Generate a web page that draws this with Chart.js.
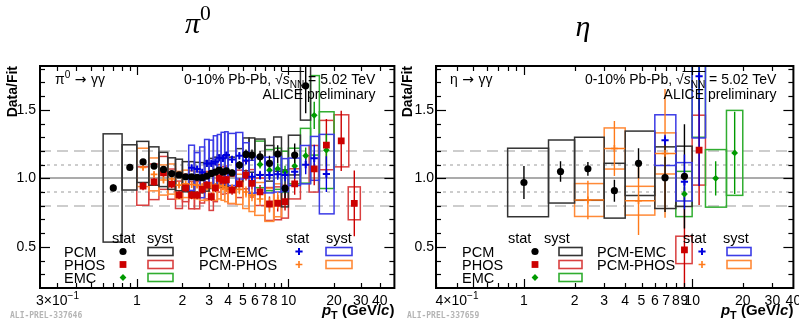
<!DOCTYPE html>
<html>
<head>
<meta charset="utf-8">
<title>π0 and η Data/Fit, 0-10% Pb-Pb 5.02 TeV</title>
<script src="https://cdn.jsdelivr.net/npm/chart.js@4.4.1/dist/chart.umd.min.js"></script>
<style>
  html, body { margin:0; padding:0; background:#ffffff; }
  #wrap { position:relative; width:799px; height:321px; overflow:hidden; background:#ffffff; }
  #wrap canvas { position:absolute; top:0; }
  #cPi0 { left:0; }
  #cEta { left:399px; }
</style>
</head>
<body>
<div id="wrap">
  <canvas id="cPi0" width="400" height="321"></canvas>
  <canvas id="cEta" width="400" height="321"></canvas>
</div>
<script>
// ===================== DATA =====================
// ---- pi0 panel ----
const pi0PcmPt   = [0.7,0.9,1.1,1.3,1.5,1.7,1.9,2.1,2.3,2.5,2.7,2.9,3.1,3.3,3.5,3.7,3.9,4.25,4.75,5.25,5.75,6.5,7.5,8.5,9.5,11,13];
const pi0PcmLo   = [0.6,0.8,1.0,1.2,1.4,1.6,1.8,2.0,2.2,2.4,2.6,2.8,3.0,3.2,3.4,3.6,3.8,4.0,4.5,5.0,5.5,6.0,7.0,8.0,9.0,10,12];
const pi0PcmHi   = [0.8,1.0,1.2,1.4,1.6,1.8,2.0,2.2,2.4,2.6,2.8,3.0,3.2,3.4,3.6,3.8,4.0,4.5,5.0,5.5,6.0,7.0,8.0,9.0,10,12,14];
const pi0PcmVal  = [0.93,1.08,1.12,1.09,1.065,1.035,1.025,1.012,1.012,1.007,1.005,1.017,1.036,1.045,1.06,1.045,1.055,1.04,1.097,1.175,1.17,1.157,1.11,1.177,0.927,1.17,1.675];
const pi0PcmStat = [0.025,0.016,0.015,0.013,0.012,0.012,0.012,0.012,0.012,0.013,0.014,0.015,0.016,0.018,0.02,0.022,0.024,0.025,0.03,0.035,0.04,0.045,0.055,0.065,0.075,0.085,0.2];
const pi0PcmSys  = [0.395,0.165,0.15,0.14,0.125,0.115,0.115,0.11,0.11,0.11,0.11,0.11,0.11,0.11,0.11,0.11,0.11,0.115,0.12,0.12,0.125,0.13,0.13,0.125,0.135,0.145,0.25];

const pi0PhosPt   = [1.1,1.3,1.5,1.7,1.9,2.1,2.3,2.5,2.7,2.9,3.1,3.3,3.5,3.7,3.9,4.25,4.75,5.25,5.75,6.5,7.5,8.5,9.5,11,14.8,17.8,22.3,27.2];
const pi0PhosLo   = [1.0,1.2,1.4,1.6,1.8,2.0,2.2,2.4,2.6,2.8,3.0,3.2,3.4,3.6,3.8,4.0,4.5,5.0,5.5,6.0,7.0,8.0,9.0,10,13.7,16,20,24.8];
const pi0PhosHi   = [1.2,1.4,1.6,1.8,2.0,2.2,2.4,2.6,2.8,3.0,3.2,3.4,3.6,3.8,4.0,4.5,5.0,5.5,6.0,7.0,8.0,9.0,10,12,15.8,20,25,29.8];
const pi0PhosVal  = [0.944,0.975,1.04,0.958,0.88,0.93,0.878,0.878,0.92,0.95,0.866,0.93,1.0,0.985,0.99,0.915,0.96,1.024,0.964,0.902,0.813,0.818,0.83,0.96,1.07,1.243,1.274,0.818];
const pi0PhosStat = [0.03,0.03,0.03,0.03,0.03,0.03,0.03,0.03,0.03,0.03,0.03,0.03,0.03,0.03,0.03,0.035,0.04,0.04,0.045,0.05,0.055,0.06,0.065,0.08,0.12,0.19,0.22,0.24];
const pi0PhosSys  = [0.14,0.13,0.12,0.11,0.1,0.1,0.1,0.1,0.1,0.1,0.1,0.1,0.1,0.1,0.1,0.1,0.1,0.1,0.1,0.1,0.12,0.12,0.12,0.11,0.17,0.18,0.19,0.12];

const pi0EmcPt   = [6.5,7.5,8.5,9.5,11,13,14.8,17.8];
const pi0EmcLo   = [6,7,8,9,10,12,14,16];
const pi0EmcHi   = [7,8,9,10,12,14,16,20];
const pi0EmcVal  = [1.102,1.06,1.07,1.048,1.09,1.165,1.46,1.206];
const pi0EmcStat = [0.03,0.035,0.04,0.045,0.05,0.06,0.1,0.12];
const pi0EmcSys  = [0.17,0.15,0.15,0.15,0.13,0.2,0.29,0.28];

const pi0PcmEmcPt   = [2.3,2.5,2.7,2.9,3.1,3.3,3.5,3.7,3.9,4.25,4.75,5.25,5.75,6.5,7.5,8.5,9.5,11,13,14.8,17.8];
const pi0PcmEmcLo   = [2.2,2.4,2.6,2.8,3.0,3.2,3.4,3.6,3.8,4.0,4.5,5.0,5.5,6.0,7.0,8.0,9.0,10,12,14,16];
const pi0PcmEmcHi   = [2.4,2.6,2.8,3.0,3.2,3.4,3.6,3.8,4.0,4.5,5.0,5.5,6.0,7.0,8.0,9.0,10,12,14,16,20];
const pi0PcmEmcVal  = [1.077,1.068,1.044,1.109,1.109,1.121,1.15,1.146,1.17,1.138,1.165,1.13,1.012,1.024,1.024,1.03,1.024,1.048,1.1,1.146,1.031];
const pi0PcmEmcStat = [0.02,0.02,0.02,0.02,0.02,0.02,0.02,0.02,0.022,0.022,0.025,0.028,0.03,0.032,0.035,0.04,0.045,0.05,0.07,0.1,0.13];
const pi0PcmEmcSys  = [0.165,0.12,0.185,0.175,0.17,0.19,0.17,0.19,0.17,0.19,0.17,0.13,0.12,0.13,0.13,0.13,0.12,0.1,0.14,0.16,0.29];

const pi0PcmPhosPt   = [1.1,1.3,1.5,1.7,1.9,2.1,2.3,2.5,2.7,2.9,3.1,3.3,3.5,3.7,3.9,4.25,4.75,5.25,5.75,6.5,7.5,8.5];
const pi0PcmPhosLo   = [1.0,1.2,1.4,1.6,1.8,2.0,2.2,2.4,2.6,2.8,3.0,3.2,3.4,3.6,3.8,4.0,4.5,5.0,5.5,6.0,7.0,8.0];
const pi0PcmPhosHi   = [1.2,1.4,1.6,1.8,2.0,2.2,2.4,2.6,2.8,3.0,3.2,3.4,3.6,3.8,4.0,4.5,5.0,5.5,6.0,7.0,8.0,9.0];
const pi0PcmPhosVal  = [1.08,1.029,0.988,0.995,0.951,0.96,0.955,0.951,0.94,0.939,0.95,0.94,0.95,0.94,0.93,0.927,0.92,0.9,0.878,0.85,0.806,0.84];
const pi0PcmPhosStat = [0.02,0.02,0.02,0.02,0.02,0.02,0.02,0.02,0.022,0.022,0.024,0.024,0.026,0.028,0.03,0.03,0.035,0.04,0.045,0.05,0.055,0.06];
const pi0PcmPhosSys  = [0.14,0.12,0.11,0.11,0.1,0.1,0.1,0.1,0.1,0.1,0.1,0.1,0.1,0.1,0.1,0.11,0.11,0.12,0.12,0.12,0.12,0.12];

// ---- eta panel ----
const etaPcmPt   = [1.0,1.65,2.4,3.45,4.8,6.9,9.0];
const etaPcmLo   = [0.8,1.4,2.0,3.0,4.0,6.0,8.0];
const etaPcmHi   = [1.4,2.0,3.0,4.0,6.0,8.0,10];
const etaPcmVal  = [0.97,1.05,1.07,0.91,1.11,1.005,1.015];
const etaPcmStat = [0.12,0.075,0.05,0.08,0.11,0.25,0.38];
const etaPcmSys  = [0.25,0.23,0.23,0.2,0.235,0.225,0.22];

const etaPhosPt   = [9.0,11];
const etaPhosLo   = [8,10];
const etaPhosHi   = [10,12];
const etaPhosVal  = [0.478,1.206];
const etaPhosStat = [0.3,0.4];
const etaPhosSys  = [0.1,0.255];

const etaEmcPt   = [9.0,11,13.8,17.9];
const etaEmcLo   = [8,10,12,16];
const etaEmcHi   = [10,12,16,20];
const etaEmcVal  = [0.886,2.0,1.0,1.186];
const etaEmcStat = [0.05,0.5,0.125,0.3];
const etaEmcSys  = [0.165,0.7,0.21,0.31];

const etaPcmEmcPt   = [6.9,9.0,11];
const etaPcmEmcLo   = [6,8,10];
const etaPcmEmcHi   = [8,10,12];
const etaPcmEmcVal  = [1.279,0.975,1.745];
const etaPcmEmcStat = [0.04,0.2,0.8];
const etaPcmEmcSys  = [0.185,0.14,0.45];

const etaPcmPhosPt   = [2.4,3.45,4.8,6.9];
const etaPcmPhosLo   = [2.0,3.0,4.0,6.0];
const etaPcmPhosHi   = [3.0,4.0,6.0,8.0];
const etaPcmPhosVal  = [0.842,1.218,0.837,1.182];
const etaPcmPhosStat = [0.14,0.2,0.25,0.47];
const etaPcmPhosSys  = [0.12,0.15,0.105,0.15];

// ---- axes / ticks ----
const pi0TickVals = [0.3,1,2,3,4,5,6,7,8,10,20,30,40];
const pi0TickText = ['3×10^−1','1','2','3','4','5','6','7','8','10','20','30','40'];
const etaTickVals = [0.4,1,2,3,4,5,6,7,8,9,10,20,30,40];
const etaTickText = ['4×10^−1','1','2','3','4','5','6','7','8','9','10','20','30','40'];
const yTickVals = [0.5,1.0,1.5];
const yTickText = ['0.5','1.0','1.5'];
const refLineVals = [0.8,0.9,1.0,1.1,1.2];

// ===================== STYLE =====================
const FONT  = '"Liberation Sans", Arial, Helvetica, sans-serif';
const SYM   = '"DejaVu Sans", "Liberation Sans", sans-serif';
const SERIF = '"Liberation Serif", "DejaVu Serif", serif';
const MONO  = '"DejaVu Sans Mono", "Liberation Mono", monospace';

const ST = {
  PCM:     {label:'PCM',      mk:'#000000', bx:'#333333', ps:'circle',  r:3.6, bw:0,   order:0},
  PCMEMC:  {label:'PCM-EMC',  mk:'#0000dd', bx:'#3c3ce6', ps:'cross',   r:3.6, bw:2,   order:1},
  PHOS:    {label:'PHOS',     mk:'#cc0000', bx:'#d94040', ps:'rect',    r:4.8, bw:0,   order:2},
  EMC:     {label:'EMC',      mk:'#009a00', bx:'#30ad30', ps:'rectRot', r:3.4, bw:0,   order:3},
  PCMPHOS: {label:'PCM-PHOS', mk:'#ff7a1a', bx:'#ff8a38', ps:'cross',   r:3.4, bw:1.6, order:4}
};
const BOX_ORDER = ['PHOS','PCMPHOS','EMC','PCM','PCMEMC'];

function mk(key, pt, lo, hi, val, stat, sys, xerr) {
  return {key, pt, lo, hi, val, stat, sys, xerr: !!xerr};
}

const PANELS = {
  cPi0: {
    xMin: 0.23, xMax: 50,
    pad: {left: 40, right: 1, top: 66, bottom: 33},
    series: [
      mk('PCM', pi0PcmPt, pi0PcmLo, pi0PcmHi, pi0PcmVal, pi0PcmStat, pi0PcmSys),
      mk('PHOS', pi0PhosPt, pi0PhosLo, pi0PhosHi, pi0PhosVal, pi0PhosStat, pi0PhosSys),
      mk('EMC', pi0EmcPt, pi0EmcLo, pi0EmcHi, pi0EmcVal, pi0EmcStat, pi0EmcSys),
      mk('PCMEMC', pi0PcmEmcPt, pi0PcmEmcLo, pi0PcmEmcHi, pi0PcmEmcVal, pi0PcmEmcStat, pi0PcmEmcSys),
      mk('PCMPHOS', pi0PcmPhosPt, pi0PcmPhosLo, pi0PcmPhosHi, pi0PcmPhosVal, pi0PcmPhosStat, pi0PcmPhosSys)
    ],
    tickVals: pi0TickVals, tickText: pi0TickText,
    title: [{t:'π', it:1, fam:SERIF}, {t:'0', sup:1, fam:SERIF}], titleX: 198, titleY: 33,
    reaction: [{t:'π'}, {t:'0', sup:1}, {t:' → ', fam:SYM}, {t:'γγ'}],
    ali: 'ALI-PREL-337646', aliX: 10,
    yLabGap: 4, yTitleGap: 23, textLeft: 15, textRight: 19,
    leg: {c1:{lab:24, mk:83, b0:108, b1:133, hs:72, hy:107}, c2:{lab:159, mk:259, b0:286, b1:312, hs:246, hy:286}}
  },
  cEta: {
    xMin: 0.33, xMax: 40,
    pad: {left: 37, right: 2, top: 66, bottom: 33},
    series: [
      mk('PCM', etaPcmPt, etaPcmLo, etaPcmHi, etaPcmVal, etaPcmStat, etaPcmSys),
      mk('PHOS', etaPhosPt, etaPhosLo, etaPhosHi, etaPhosVal, etaPhosStat, etaPhosSys),
      mk('EMC', etaEmcPt, etaEmcLo, etaEmcHi, etaEmcVal, etaEmcStat, etaEmcSys),
      mk('PCMEMC', etaPcmEmcPt, etaPcmEmcLo, etaPcmEmcHi, etaPcmEmcVal, etaPcmEmcStat, etaPcmEmcSys),
      mk('PCMPHOS', etaPcmPhosPt, etaPcmPhosLo, etaPcmPhosHi, etaPcmPhosVal, etaPcmPhosStat, etaPcmPhosSys, true)
    ],
    tickVals: etaTickVals, tickText: etaTickText,
    title: [{t:'η', it:1, fam:SERIF}], titleX: 184, titleY: 36,
    reaction: [{t:'η'}, {t:' → ', fam:SYM}, {t:'γγ'}],
    ali: 'ALI-PREL-337659', aliX: 8,
    yLabGap: 2, yTitleGap: 24, textLeft: 14, textRight: 17,
    leg: {c1:{lab:26, mk:99, b0:123, b1:146, hs:72, hy:108}, c2:{lab:161, mk:266, b0:291, b1:315, hs:247, hy:287}}
  }
};

// ===================== DRAW HELPERS =====================
function setFont(ctx, s, size) {
  ctx.font = (s.it ? 'italic ' : '') + (s.b ? 'bold ' : '') + size + 'px ' + (s.fam || FONT);
}
function drawRich(ctx, segs, x, y, align, size) {
  const parts = segs.map(s => {
    const sz = (s.sup || s.sub) ? size * 0.72 : size;
    setFont(ctx, s, sz);
    return {s, sz, w: ctx.measureText(s.t).width};
  });
  const total = parts.reduce((acc, p) => acc + p.w, 0);
  let cx = align === 'right' ? x - total : (align === 'center' ? x - total / 2 : x);
  ctx.textAlign = 'left';
  const pos = [];
  parts.forEach(p => {
    setFont(ctx, p.s, p.sz);
    const dy = p.s.sup ? -size * 0.42 : (p.s.sub ? size * 0.28 : 0);
    ctx.fillText(p.s.t, cx, y + dy);
    pos.push({x: cx, w: p.w, s: p.s});
    cx += p.w;
  });
  return pos;
}
function parseTick(txt) {
  const i = txt.indexOf('^');
  if (i < 0) return [{t: txt}];
  return [{t: txt.slice(0, i)}, {t: txt.slice(i + 1), sup: 1}];
}
function drawMarker(ctx, st, x, y) {
  ctx.save();
  ctx.fillStyle = st.mk; ctx.strokeStyle = st.mk; ctx.lineWidth = st.bw || 1;
  const r = st.r;
  ctx.beginPath();
  if (st.ps === 'circle') { ctx.arc(x, y, r, 0, Math.PI * 2); ctx.fill(); }
  else if (st.ps === 'rect') { const s = r * Math.SQRT1_2; ctx.fillRect(x - s, y - s, 2 * s, 2 * s); }
  else if (st.ps === 'rectRot') { ctx.moveTo(x - r, y); ctx.lineTo(x, y - r); ctx.lineTo(x + r, y); ctx.lineTo(x, y + r); ctx.closePath(); ctx.fill(); }
  else { ctx.moveTo(x - r, y); ctx.lineTo(x + r, y); ctx.moveTo(x, y - r); ctx.lineTo(x, y + r); ctx.stroke(); }
  ctx.restore();
}
function seg(ctx, x0, y0, x1, y1) { ctx.beginPath(); ctx.moveTo(x0, y0); ctx.lineTo(x1, y1); ctx.stroke(); }

// ===================== PLUGIN (ROOT-style frame, syst boxes, stat bars, texts) =====================
const rootPanel = {
  id: 'rootPanel',
  beforeDatasetsDraw(chart) {
    const P = PANELS[chart.canvas.id];
    const {ctx, chartArea: a} = chart;
    const xs = chart.scales.x, ys = chart.scales.y;
    ctx.save();
    ctx.beginPath(); ctx.rect(a.left, a.top, a.right - a.left, a.bottom - a.top); ctx.clip();
    // reference lines
    refLineVals.forEach(v => {
      const py = Math.round(ys.getPixelForValue(v));
      if (Math.abs(v - 1) < 1e-9) { ctx.strokeStyle = '#8f8f8f'; ctx.lineWidth = 1.6; ctx.setLineDash([]); }
      else if (Math.abs(Math.abs(v - 1) - 0.1) < 1e-9) { ctx.strokeStyle = '#cdcdcd'; ctx.lineWidth = 2; ctx.setLineDash([3, 4]); }
      else { ctx.strokeStyle = '#cdcdcd'; ctx.lineWidth = 2; ctx.setLineDash([11, 6]); }
      seg(ctx, a.left, py, a.right, py);
    });
    ctx.setLineDash([]);
    // systematic boxes
    BOX_ORDER.forEach(key => {
      const s = P.series.find(q => q.key === key); if (!s) return;
      const st = ST[key];
      ctx.strokeStyle = st.bx; ctx.lineWidth = 1.5;
      s.pt.forEach((p, j) => {
        const x0 = xs.getPixelForValue(s.lo[j]), x1 = xs.getPixelForValue(s.hi[j]);
        const y0 = ys.getPixelForValue(s.val[j] + s.sys[j]), y1 = ys.getPixelForValue(s.val[j] - s.sys[j]);
        ctx.strokeRect(x0, y0, x1 - x0, y1 - y0);
      });
    });
    // statistical error bars
    BOX_ORDER.forEach(key => {
      const s = P.series.find(q => q.key === key); if (!s) return;
      const st = ST[key];
      ctx.strokeStyle = st.mk; ctx.lineWidth = 1.4;
      s.pt.forEach((p, j) => {
        const px = xs.getPixelForValue(p);
        seg(ctx, px, ys.getPixelForValue(s.val[j] + s.stat[j]), px, ys.getPixelForValue(s.val[j] - s.stat[j]));
        if (s.xerr) {
          const py = ys.getPixelForValue(s.val[j]);
          seg(ctx, xs.getPixelForValue(s.lo[j]), py, xs.getPixelForValue(s.hi[j]), py);
        }
      });
    });
    ctx.restore();
  },
  afterDraw(chart) {
    const P = PANELS[chart.canvas.id];
    const {ctx, chartArea: a} = chart;
    const xs = chart.scales.x, ys = chart.scales.y;
    ctx.save();
    ctx.setLineDash([]);
    // frame
    ctx.strokeStyle = '#000'; ctx.lineWidth = 2;
    ctx.strokeRect(a.left, a.top, a.right - a.left, a.bottom - a.top);
    // x ticks (bottom and top, inward)
    ctx.lineWidth = 1.2;
    for (let d = -1; d <= 1; d++) {
      for (let k = 1; k <= 9; k++) {
        const v = k * Math.pow(10, d);
        if (v <= xs.min || v >= xs.max) continue;
        const px = Math.round(xs.getPixelForValue(v)) + 0.5;
        const len = k === 1 ? 9 : 5;
        seg(ctx, px, a.bottom, px, a.bottom - len);
        seg(ctx, px, a.top, px, a.top + len);
      }
    }
    // y ticks (left and right, inward)
    for (let i = 3; i <= 18; i++) {
      const v = i / 10;
      if (v <= ys.min || v >= ys.max) continue;
      const py = Math.round(ys.getPixelForValue(v)) + 0.5;
      const len = (i % 5 === 0) ? 10 : 5;
      seg(ctx, a.left, py, a.left + len, py);
      seg(ctx, a.right, py, a.right - len, py);
    }
    // x tick labels
    ctx.fillStyle = '#000'; ctx.textBaseline = 'alphabetic';
    P.tickVals.forEach((v, i) => {
      drawRich(ctx, parseTick(P.tickText[i]), xs.getPixelForValue(v), a.bottom + 17, 'center', 14);
    });
    // y tick labels
    ctx.textBaseline = 'middle'; ctx.textAlign = 'right'; ctx.font = '14px ' + FONT;
    yTickVals.forEach((v, i) => { ctx.fillText(yTickText[i], a.left - P.yLabGap, ys.getPixelForValue(v)); });
    ctx.textBaseline = 'alphabetic';
    // y title (rotated, aligned to the top)
    ctx.save();
    ctx.translate(a.left - P.yTitleGap, a.top);
    ctx.rotate(-Math.PI / 2);
    ctx.textAlign = 'right'; ctx.font = 'bold 14px ' + FONT;
    ctx.fillText('Data/Fit', 0, 0);
    ctx.restore();
    // x title
    drawRich(ctx, [{t:'p', b:1, it:1}, {t:'T', b:1, sub:1}, {t:' (GeV/', b:1}, {t:'c', b:1, it:1}, {t:')', b:1}], a.right, a.bottom + 27, 'right', 15);
    // preliminary ID
    ctx.fillStyle = '#b4b4b4'; ctx.font = 'bold 8px ' + MONO; ctx.textAlign = 'left';
    ctx.fillText(P.ali, P.aliX, 318);
    // panel title
    ctx.fillStyle = '#000';
    drawRich(ctx, P.title, P.titleX, P.titleY, 'center', 30);
    // reaction label
    drawRich(ctx, P.reaction, a.left + P.textLeft, a.top + 18, 'left', 14);
    // energy label with sqrt overline
    const pos = drawRich(ctx, [{t:'0-10% Pb-Pb, '}, {t:'√', rt:1}, {t:'s', it:1}, {t:'NN', sub:1}, {t:' = 5.02 TeV'}], a.right - P.textRight, a.top + 18, 'right', 14);
    const rt = pos.find(p => p.s.rt), nn = pos.find(p => p.s.sub);
    ctx.strokeStyle = '#000'; ctx.lineWidth = 1;
    seg(ctx, rt.x + rt.w - 1, a.top + 18 - 12.5, nn.x + nn.w, a.top + 18 - 12.5);
    drawRich(ctx, [{t:'ALICE preliminary'}], a.right - P.textRight, a.top + 33, 'right', 14);
    // legend
    const hb = a.bottom - 45;
    const rows = [a.bottom - 31, a.bottom - 18, a.bottom - 5];
    [['c1', ['PCM','PHOS','EMC']], ['c2', ['PCMEMC','PCMPHOS']]].forEach(([c, keys]) => {
      const col = P.leg[c];
      ctx.fillStyle = '#000'; ctx.textAlign = 'left'; ctx.font = '14.5px ' + FONT;
      ctx.fillText('stat', a.left + col.hs, hb);
      ctx.fillText('syst', a.left + col.hy, hb);
      keys.forEach((k, i) => {
        const st = ST[k], by = rows[i];
        ctx.fillStyle = '#000'; ctx.font = '14.5px ' + FONT; ctx.textAlign = 'left';
        ctx.fillText(st.label, a.left + col.lab, by);
        drawMarker(ctx, st, a.left + col.mk, by - 5.5);
        ctx.strokeStyle = st.bx; ctx.lineWidth = 1.6;
        ctx.strokeRect(a.left + col.b0, by - 9.5, col.b1 - col.b0, 8);
      });
    });
    ctx.restore();
  }
};

// ===================== CHARTS =====================
function makeChart(id) {
  const P = PANELS[id];
  return new Chart(document.getElementById(id), {
    type: 'scatter',
    data: {
      datasets: P.series.map(s => {
        const st = ST[s.key];
        return {
          label: st.label,
          data: s.pt.map((p, j) => ({x: p, y: s.val[j]})),
          pointStyle: st.ps, pointRadius: st.r, pointHoverRadius: st.r,
          borderWidth: st.bw, pointBorderWidth: st.bw,
          backgroundColor: st.mk, borderColor: st.mk,
          order: st.order
        };
      })
    },
    options: {
      responsive: false, maintainAspectRatio: false, animation: false, devicePixelRatio: 1, events: [],
      layout: {padding: P.pad},
      scales: {
        x: {type: 'logarithmic', min: P.xMin, max: P.xMax, display: false},
        y: {type: 'linear', min: 0.2, max: 1.82, display: false}
      },
      plugins: {legend: {display: false}, tooltip: {enabled: false}, title: {display: false}}
    },
    plugins: [rootPanel]
  });
}
makeChart('cPi0');
makeChart('cEta');
</script>
</body>
</html>
